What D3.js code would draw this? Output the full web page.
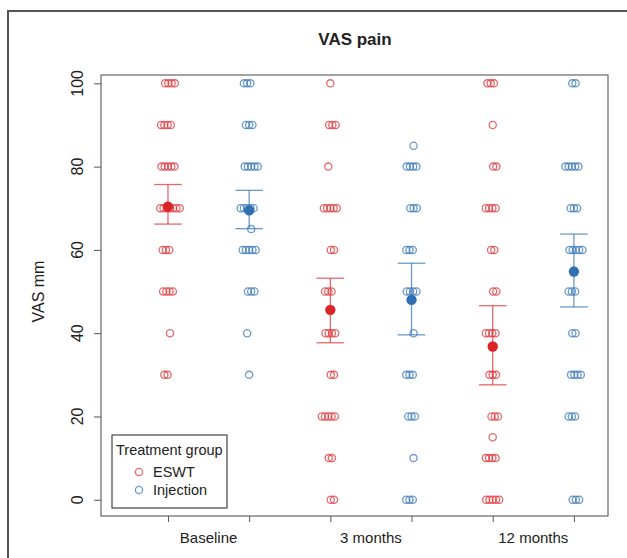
<!DOCTYPE html>
<html>
<head>
<meta charset="utf-8">
<script src="https://cdn.jsdelivr.net/npm/d3@7"></script>
<style>
  body { margin: 0; background: #fff; }
  svg text { font-family: "Liberation Sans", Arial, sans-serif; fill: #222; }
</style>
</head>
<body>
<svg id="chart" width="627" height="558"></svg>
<script>
// categories
const timeLabels = ["Baseline", "3 months", "12 months"];
const groupNames = ["ESWT", "Injection"];
const yTicks = [0, 20, 40, 60, 80, 100];

// individual VAS values (mm)
const eswtBaseline = [100,100,100,100, 90,90,90,90, 80,80,80,80,80, 70,70,70,70,70,70,70, 60,60,60, 50,50,50,50, 40, 30,30];
const injBaseline  = [100,100,100, 90,90,90, 80,80,80,80,80, 70,70,70,70,70, 65, 60,60,60,60,60, 50,50,50, 40, 30];
const eswt3m  = [100, 90,90,90, 80, 70,70,70,70,70, 60,60, 50,50,50, 40,40,40,40, 30,30, 20,20,20,20,20, 10,10, 0,0];
const inj3m   = [85, 80,80,80,80, 70,70,70, 60,60,60, 50,50,50,50, 40, 30,30,30, 20,20,20, 10, 0,0,0];
const eswt12m = [100,100,100, 90, 80,80, 70,70,70,70, 60,60, 50,50, 40,40,40,40, 30,30,30, 20,20,20, 15, 10,10,10,10, 0,0,0,0,0];
const inj12m  = [100,100, 80,80,80,80,80, 70,70,70, 60,60,60,60,60, 50,50,50, 40,40, 30,30,30,30, 20,20,20, 0,0,0];

// means and interval ends
const eswtMean  = [70.4, 45.6, 36.8];
const eswtLower = [66.2, 37.7, 27.6];
const eswtUpper = [75.7, 53.2, 46.6];
const injMean   = [69.5, 48.0, 54.8];
const injLower  = [65.1, 39.6, 46.3];
const injUpper  = [74.3, 56.8, 63.8];

const colors = {
  ESWT: "#e0353b",
  Injection: "#3a78b8"
};

const series = [
  {group: "ESWT", time: 0, values: eswtBaseline},
  {group: "Injection", time: 0, values: injBaseline},
  {group: "ESWT", time: 1, values: eswt3m},
  {group: "Injection", time: 1, values: inj3m},
  {group: "ESWT", time: 2, values: eswt12m},
  {group: "Injection", time: 2, values: inj12m}
].map(d => ({...d, pos: d.time * 2 + (d.group === "ESWT" ? 1 : 2)}));

const summary = [];
for (let t = 0; t < 3; t++) {
  summary.push({group: "ESWT", pos: t * 2 + 1, mean: eswtMean[t], lo: eswtLower[t], hi: eswtUpper[t]});
  summary.push({group: "Injection", pos: t * 2 + 2, mean: injMean[t], lo: injLower[t], hi: injUpper[t]});
}

const svg = d3.select("#chart");

const x = d3.scaleLinear().domain([0.175, 6.42]).range([101, 608]);
const y = d3.scaleLinear().domain([-3.9, 102]).range([516, 75]);

// outer frame
svg.append("rect")
  .attr("x", 8).attr("y", 11)
  .attr("width", 640).attr("height", 570)
  .attr("fill", "none")
  .attr("stroke", "#555")
  .attr("stroke-width", 2);

// title
svg.append("text")
  .attr("x", 355).attr("y", 45)
  .attr("text-anchor", "middle")
  .style("font-size", "17px")
  .style("font-weight", "bold")
  .text("VAS pain");

// points, spread a bit sideways inside each row
const pts = [];
series.forEach((s, si) => {
  const rows = d3.groups(s.values, v => v);
  rows.forEach(([v, arr]) => {
    const n = arr.length;
    const shift = (((v / 5) + si) % 3 - 1) * 0.025;
    arr.forEach((_, i) => {
      pts.push({group: s.group, value: v, xv: s.pos + shift + (i - (n - 1) / 2) * 0.04});
    });
  });
});

svg.append("g")
  .selectAll("circle")
  .data(pts)
  .enter()
  .append("circle")
  .attr("cx", d => x(d.xv))
  .attr("cy", d => y(d.value))
  .attr("r", 3.6)
  .attr("fill", "none")
  .attr("stroke", d => colors[d.group])
  .attr("stroke-opacity", 0.75)
  .attr("stroke-width", 1.3);

// interval bars
const bars = svg.append("g").selectAll("g")
  .data(summary)
  .enter()
  .append("g")
  .attr("stroke", d => colors[d.group])
  .attr("stroke-opacity", 0.75)
  .attr("stroke-width", 1.3);

bars.append("line")
  .attr("x1", d => x(d.pos)).attr("x2", d => x(d.pos))
  .attr("y1", d => y(d.lo)).attr("y2", d => y(d.hi));
bars.append("line")
  .attr("x1", d => x(d.pos - 0.17)).attr("x2", d => x(d.pos + 0.17))
  .attr("y1", d => y(d.hi)).attr("y2", d => y(d.hi));
bars.append("line")
  .attr("x1", d => x(d.pos - 0.17)).attr("x2", d => x(d.pos + 0.17))
  .attr("y1", d => y(d.lo)).attr("y2", d => y(d.lo));

svg.append("g")
  .selectAll("circle")
  .data(summary)
  .enter()
  .append("circle")
  .attr("cx", d => x(d.pos))
  .attr("cy", d => y(d.mean))
  .attr("r", 5.2)
  .attr("fill", d => d.group === "ESWT" ? "#d92428" : "#2f6fb2");

// plot box
svg.append("rect")
  .attr("x", x(0.175)).attr("y", y(102))
  .attr("width", x(6.42) - x(0.175))
  .attr("height", y(-3.9) - y(102))
  .attr("fill", "none")
  .attr("stroke", "#666")
  .attr("stroke-width", 1.2);

// y axis
const yAxis = d3.axisLeft(y).tickValues(yTicks).tickSize(7).tickFormat("");
const gy = svg.append("g")
  .attr("transform", `translate(${x(0.175)},0)`)
  .call(yAxis);
gy.select(".domain").remove();
gy.selectAll(".tick line").attr("stroke", "#555");

svg.append("g")
  .selectAll("text")
  .data(yTicks)
  .enter()
  .append("text")
  .attr("transform", d => `translate(83,${y(d)})rotate(-90)`)
  .attr("text-anchor", "middle")
  .style("font-size", "16px")
  .text(d => d);

svg.append("text")
  .attr("transform", `translate(44,${y(50)})rotate(-90)`)
  .attr("text-anchor", "middle")
  .style("font-size", "16px")
  .text("VAS mm");

// x axis
const xAxis = d3.axisBottom(x).tickValues([1, 2, 3, 4, 5, 6]).tickSize(6).tickFormat("");
const gx = svg.append("g")
  .attr("transform", `translate(0,${y(-3.9)})`)
  .call(xAxis);
gx.select(".domain").remove();
gx.selectAll(".tick line").attr("stroke", "#555");

svg.append("g")
  .selectAll("text")
  .data(timeLabels)
  .enter()
  .append("text")
  .attr("x", (d, i) => x(i * 2 + 1.5))
  .attr("y", 543)
  .attr("text-anchor", "middle")
  .style("font-size", "15px")
  .text(d => d);

// legend
const legend = svg.append("g");
legend.append("rect")
  .attr("x", 112).attr("y", 435)
  .attr("width", 115).attr("height", 73)
  .attr("fill", "#fff")
  .attr("stroke", "#444")
  .attr("stroke-width", 1.2);
legend.append("text")
  .attr("x", 116).attr("y", 455)
  .style("font-size", "14.5px")
  .text("Treatment group");
groupNames.forEach((g, i) => {
  legend.append("circle")
    .attr("cx", 139).attr("cy", 472 + i * 18)
    .attr("r", 3.6)
    .attr("fill", "none")
    .attr("stroke", colors[g])
    .attr("stroke-opacity", 0.75)
    .attr("stroke-width", 1.3);
  legend.append("text")
    .attr("x", 153).attr("y", 477 + i * 18)
    .style("font-size", "14.5px")
    .text(g);
});
</script>
</body>
</html>
